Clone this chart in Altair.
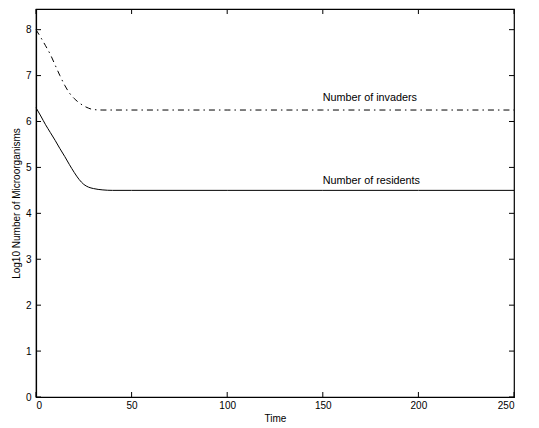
import altair as alt
import pandas as pd

time = [0, 2.5, 5, 7.5, 10, 12.5, 15, 17.5, 20, 22.5, 25, 27.5, 30, 35, 40, 50, 100, 150, 200, 250]
residents = [6.30, 6.12, 5.93, 5.76, 5.59, 5.41, 5.24, 5.06, 4.89, 4.74, 4.63, 4.57, 4.54, 4.51, 4.50, 4.50, 4.50, 4.50, 4.50, 4.50]
invaders = [8.00, 7.83, 7.65, 7.46, 7.23, 7.00, 6.79, 6.62, 6.50, 6.41, 6.34, 6.29, 6.26, 6.25, 6.25, 6.25, 6.25, 6.25, 6.25, 6.25]

label_text = ["Number of invaders", "Number of residents"]
label_x = [150, 150]
label_y = [6.51, 4.70]

x_ticks = [0, 50, 100, 150, 200, 250]
y_ticks = [0, 1, 2, 3, 4, 5, 6, 7, 8]

W, H = 478, 388
FONT = "Liberation Sans"
TICK = 5

df_res = pd.DataFrame({"t": time, "v": residents})
df_inv = pd.DataFrame({"t": time, "v": invaders})
df_lab = pd.DataFrame({"t": label_x, "v": label_y, "txt": label_text})
df_xt = pd.DataFrame({"t": x_ticks})
df_yt = pd.DataFrame({"v": y_ticks})

xscale = alt.Scale(domain=[0, 250], nice=False, zero=False)
yscale = alt.Scale(domain=[0, 8.45], nice=False, zero=False)

common = dict(labelFont=FONT, labelFontSize=10, labelColor="black",
              titleFont=FONT, titleFontSize=10, titleColor="black",
              titleFontWeight="normal", grid=False, ticks=False,
              domainColor="black", domainWidth=1.2)

x_axis = alt.Axis(values=x_ticks, title="Time", labelPadding=3, titlePadding=3, **common)
y_axis = alt.Axis(values=y_ticks, title="Log10 Number of Microorganisms",
                  labelPadding=5, titlePadding=4, **common)

res_line = alt.Chart(df_res).mark_line(color="black", strokeWidth=1, interpolate="monotone").encode(
    x=alt.X("t:Q", scale=xscale, axis=x_axis),
    y=alt.Y("v:Q", scale=yscale, axis=y_axis),
)

inv_line = alt.Chart(df_inv).mark_line(color="black", strokeWidth=1, interpolate="monotone",
                                       strokeDash=[6, 4, 1.5, 4]).encode(
    x=alt.X("t:Q", scale=xscale),
    y=alt.Y("v:Q", scale=yscale),
)

labels = alt.Chart(df_lab).mark_text(align="left", baseline="middle", font=FONT,
                                     fontSize=10.8, color="black").encode(
    x=alt.X("t:Q", scale=xscale),
    y=alt.Y("v:Q", scale=yscale),
    text="txt:N",
)

# inward ticks on all four sides
xt_bottom = alt.Chart(df_xt).mark_rule(color="black", strokeWidth=1).encode(
    x=alt.X("t:Q", scale=xscale), y=alt.value(H), y2=alt.value(H - TICK))
xt_top = alt.Chart(df_xt).mark_rule(color="black", strokeWidth=1).encode(
    x=alt.X("t:Q", scale=xscale), y=alt.value(0), y2=alt.value(TICK))
yt_left = alt.Chart(df_yt).mark_rule(color="black", strokeWidth=1).encode(
    y=alt.Y("v:Q", scale=yscale), x=alt.value(0), x2=alt.value(TICK))
yt_right = alt.Chart(df_yt).mark_rule(color="black", strokeWidth=1).encode(
    y=alt.Y("v:Q", scale=yscale), x=alt.value(W), x2=alt.value(W - TICK))

chart = alt.layer(res_line, inv_line, labels, xt_bottom, xt_top, yt_left, yt_right).properties(
    width=W, height=H,
    autosize=alt.AutoSizeParams(type="none"),
    padding={"left": 28, "top": 1, "right": 17, "bottom": 30},
    background="white",
).configure_view(stroke="black", strokeWidth=1.2)

chart.save("out.html", embed_options={"renderer": "svg", "actions": False})
